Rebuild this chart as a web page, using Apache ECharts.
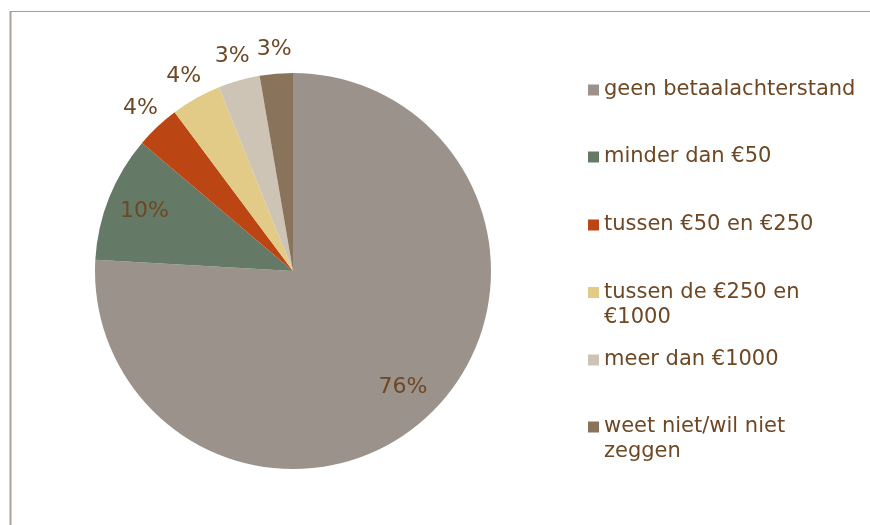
<!DOCTYPE html>
<html>
<head>
<meta charset="utf-8">
<script src="https://cdn.jsdelivr.net/npm/echarts@6/dist/echarts.min.js"></script>
<style>html,body{margin:0;padding:0;background:#fff;}#c{width:870px;height:525px;}</style>
</head>
<body>
<div id="c"></div>
<script>
const categories = ['geen betaalachterstand', 'minder dan €50', 'tussen €50 en €250', 'tussen de €250 en €1000', 'meer dan €1000', 'weet niet/wil niet zeggen'];
const values = [75.9, 10.3, 3.6, 4.1, 3.4, 2.7];
const legendText = ['geen betaalachterstand', 'minder dan €50', 'tussen €50 en €250', 'tussen de €250 en\n€1000', 'meer dan €1000', 'weet niet/wil niet\nzeggen'];
const insideLabels = [true, true, false, false, false, false];

const colors = ['#9b938b', '#647a67', '#bb4513', '#e2cb86', '#cec4b6', '#8a735b'];
const textColor = '#6e4724';
const font = 'DejaVu Sans';
const cx = 293, cy = 271, R = 198;
const legendCenters = [90, 157, 225, 292.5, 360, 427];

const chart = echarts.init(document.getElementById('c'), null, {renderer: 'canvas'});

const mainData = categories.map((n, i) => ({name: n, value: values[i], itemStyle: {color: colors[i]}}));
function overlayData(inside) {
  return categories.map((n, i) => ({
    name: n, value: values[i],
    itemStyle: {color: 'rgba(0,0,0,0)'},
    label: {show: insideLabels[i] === inside}
  }));
}
const labelStyle = {
  position: 'inside',
  formatter: p => Math.round(p.value) + '%',
  color: textColor, fontFamily: font, fontSize: 22
};

const legends = categories.map((n, i) => {
  const wrapped = legendText[i].indexOf('\n') >= 0;
  return {
    data: [n],
    left: 588,
    top: legendCenters[i] - (wrapped ? 37.5 : 12.5),
    padding: 0,
    itemWidth: 11, itemHeight: 11,
    icon: 'rect',
    selectedMode: false,
    formatter: () => (wrapped ? '\n' : '') + legendText[i],
    textStyle: {color: textColor, fontFamily: font, fontSize: 21, lineHeight: 25}
  };
});

chart.setOption({
  animation: false,
  backgroundColor: '#fff',
  legend: legends,
  graphic: [
    {type: 'line', shape: {x1: 10.5, y1: 11, x2: 10.5, y2: 525}, style: {stroke: '#aca099', lineWidth: 2}, silent: true},
    {type: 'line', shape: {x1: 10, y1: 11.5, x2: 870, y2: 11.5}, style: {stroke: '#a89c94', lineWidth: 1}, silent: true}
  ],
  series: [
    {
      type: 'pie', center: [cx, cy], radius: [0, R], startAngle: 90, clockwise: true,
      label: {show: false}, labelLine: {show: false},
      emphasis: {disabled: true}, silent: true,
      itemStyle: {borderWidth: 0},
      data: mainData
    },
    {
      type: 'pie', center: [cx, cy], radius: [116, R], startAngle: 90, clockwise: true,
      label: labelStyle, labelLine: {show: false}, avoidLabelOverlap: false,
      emphasis: {disabled: true}, silent: true,
      data: overlayData(true)
    },
    {
      type: 'pie', center: [cx, cy], radius: [R, 242], startAngle: 90, clockwise: true,
      label: labelStyle, labelLine: {show: false}, avoidLabelOverlap: false,
      emphasis: {disabled: true}, silent: true,
      data: overlayData(false)
    }
  ]
});
</script>
</body>
</html>
